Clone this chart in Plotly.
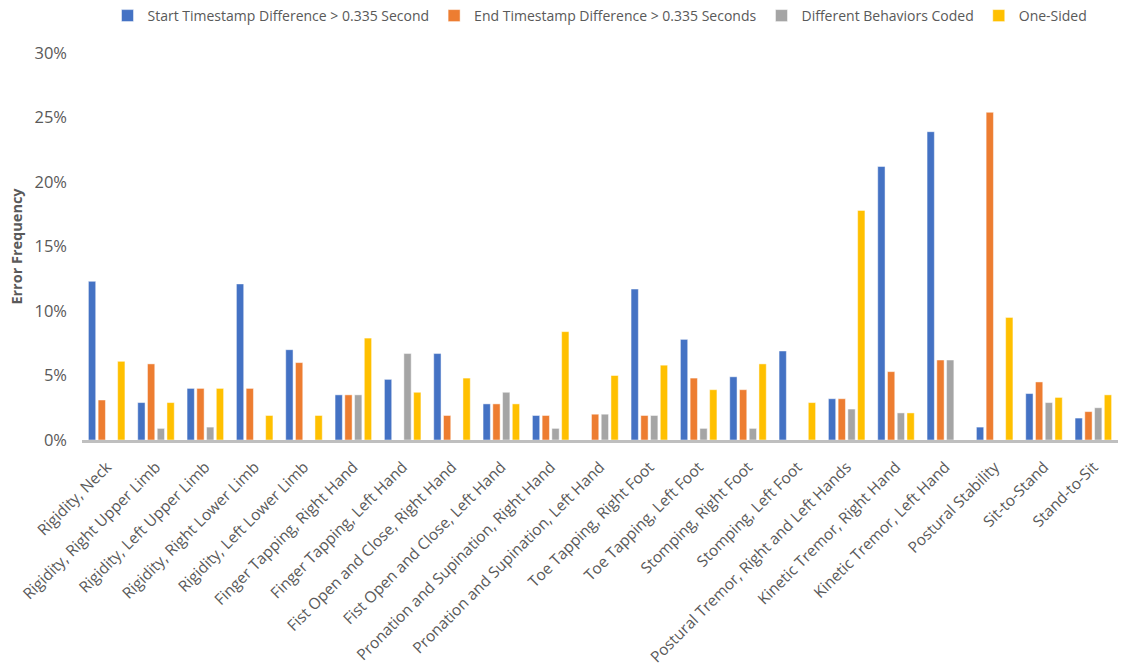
import plotly.graph_objects as go

categories = [
    "Rigidity, Neck", "Rigidity, Right Upper Limb", "Rigidity, Left Upper Limb",
    "Rigidity, Right Lower Limb", "Rigidity, Left Lower Limb",
    "Finger Tapping, Right Hand", "Finger Tapping, Left Hand",
    "Fist Open and Close, Right Hand", "Fist Open and Close, Left Hand",
    "Pronation and Supination, Right Hand", "Pronation and Supination, Left Hand",
    "Toe Tapping, Right Foot", "Toe Tapping, Left Foot",
    "Stomping, Right Foot", "Stomping, Left Foot",
    "Postural Tremor, Right and Left Hands", "Kinetic Tremor, Right Hand",
    "Kinetic Tremor, Left Hand", "Postural Stability", "Sit-to-Stand", "Stand-to-Sit",
]

start_diff = [12.3, 2.9, 4.0, 12.1, 7.0, 3.5, 4.7, 6.7, 2.8, 1.9, 0.0,
              11.7, 7.8, 4.9, 6.9, 3.2, 21.2, 23.9, 1.0, 3.6, 1.7]
end_diff = [3.1, 5.9, 4.0, 4.0, 6.0, 3.5, 0.0, 1.9, 2.8, 1.9, 2.0,
            1.9, 4.8, 3.9, 0.0, 3.2, 5.3, 6.2, 25.4, 4.5, 2.2]
diff_behaviors = [0.0, 0.9, 1.0, 0.0, 0.0, 3.5, 6.7, 0.0, 3.7, 0.9, 2.0,
                  1.9, 0.9, 0.9, 0.0, 2.4, 2.1, 6.2, 0.0, 2.9, 2.5]
one_sided = [6.1, 2.9, 4.0, 1.9, 1.9, 7.9, 3.7, 4.8, 2.8, 8.4, 5.0,
             5.8, 3.9, 5.9, 2.9, 17.8, 2.1, 0.0, 9.5, 3.3, 3.5]

series = [
    ("Start Timestamp Difference > 0.335 Second", start_diff, "#4472C4"),
    ("End Timestamp Difference > 0.335 Seconds", end_diff, "#ED7D31"),
    ("Different Behaviors Coded", diff_behaviors, "#A5A5A5"),
    ("One-Sided", one_sided, "#FFC000"),
]

y_ticks = [0, 5, 10, 15, 20, 25, 30]

fig = go.Figure()
for name, vals, color in series:
    fig.add_trace(go.Bar(
        name=name,
        x=categories,
        y=[v / 100 for v in vals],
        marker=dict(color=color, line=dict(color="rgba(255,255,255,0.6)", width=0.8)),
    ))

grey = "#595959"
fig.update_layout(
    width=1123, height=671,
    paper_bgcolor="white", plot_bgcolor="white",
    margin=dict(l=82, r=5, t=53, b=231),
    barmode="group", bargap=0.21, bargroupgap=0.25,
    font=dict(family="Open Sans", color=grey),
    legend=dict(
        orientation="h", x=0.5, xanchor="center",
        yref="container", y=1.0, yanchor="top",
        font=dict(size=14, color=grey),
        itemwidth=30, tracegroupgap=0,
    ),
    xaxis=dict(
        tickangle=-45, tickfont=dict(size=15.5, color=grey), ticklabelstandoff=9,
        showline=True, linecolor="#BFBFBF", linewidth=3,
        ticks="", showgrid=False, automargin=False,
    ),
    yaxis=dict(
        range=[0, 0.30], tickvals=[t / 100 for t in y_ticks],
        ticktext=[f"{t}%" for t in y_ticks],
        tickfont=dict(size=16.5, color=grey), ticklabelstandoff=14,
        showgrid=False, zeroline=False, ticks="", automargin=False,
        title=dict(text="<b>Error Frequency</b>", font=dict(size=14.5, color=grey), standoff=8),
    ),
)

fig.write_html("out.html")
